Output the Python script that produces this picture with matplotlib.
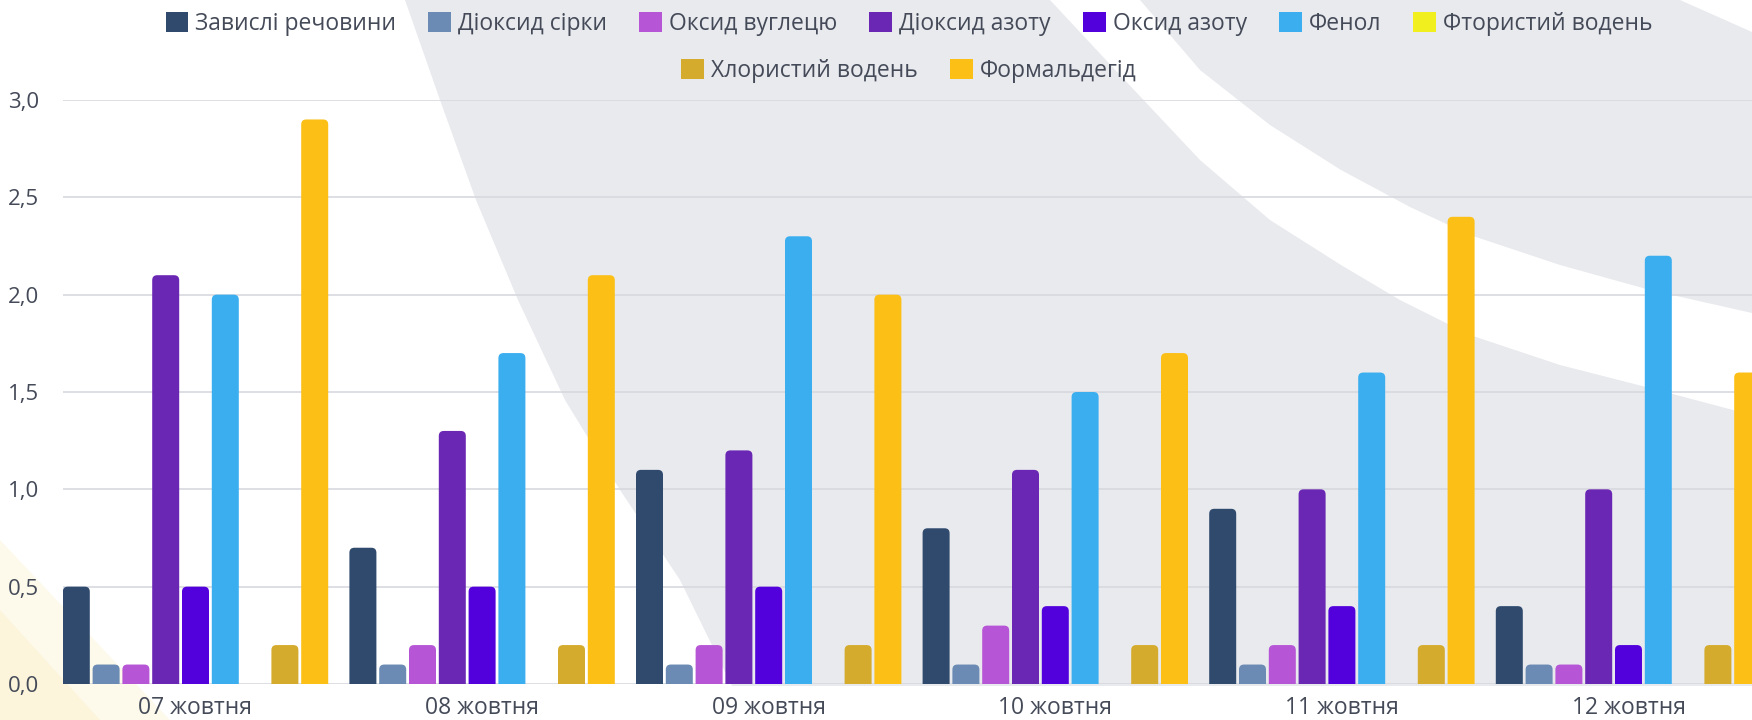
import matplotlib
matplotlib.use("Agg")
import matplotlib.pyplot as plt
import matplotlib.patches as mpatches
from matplotlib.patches import Polygon, FancyBboxPatch
import numpy as np

# ---------------- data ----------------
dates = ["07 жовтня", "08 жовтня", "09 жовтня", "10 жовтня", "11 жовтня", "12 жовтня"]
series_names = ["Завислі речовини", "Діоксид сірки", "Оксид вуглецю", "Діоксид азоту",
                "Оксид азоту", "Фенол", "Фтористий водень", "Хлористий водень", "Формальдегід"]
suspended = [0.5, 0.7, 1.1, 0.8, 0.9, 0.4]
sulfur_dioxide = [0.1, 0.1, 0.1, 0.1, 0.1, 0.1]
carbon_oxide = [0.1, 0.2, 0.2, 0.3, 0.2, 0.1]
nitrogen_dioxide = [2.1, 1.3, 1.2, 1.1, 1.0, 1.0]
nitrogen_oxide = [0.5, 0.5, 0.5, 0.4, 0.4, 0.2]
phenol = [2.0, 1.7, 2.3, 1.5, 1.6, 2.2]
hydrogen_fluoride = [0.0, 0.0, 0.0, 0.0, 0.0, 0.0]
hydrogen_chloride = [0.2, 0.2, 0.2, 0.2, 0.2, 0.2]
formaldehyde = [2.9, 2.1, 2.0, 1.7, 2.4, 1.6]
y_ticks = [0.0, 0.5, 1.0, 1.5, 2.0, 2.5, 3.0]
y_tick_labels = ["0,0", "0,5", "1,0", "1,5", "2,0", "2,5", "3,0"]

series_values = [suspended, sulfur_dioxide, carbon_oxide, nitrogen_dioxide, nitrogen_oxide,
                 phenol, hydrogen_fluoride, hydrogen_chloride, formaldehyde]
colors = ["#2f4a6d", "#6b8bb4", "#b655d5", "#6a27b4", "#5200dc", "#3baef0",
          "#f2ef1e", "#d5ab2d", "#fbbf15"]

FONT = ["Open Sans", "DejaVu Sans"]
plt.rcParams["font.family"] = FONT
TEXT = "#444a58"

W, H = 1752, 720
fig = plt.figure(figsize=(W / 100, H / 100), dpi=100)
fig.patch.set_facecolor("white")

# ---------------- decorative background ----------------
bg = fig.add_axes([0, 0, 1, 1], zorder=-10)
bg.set_xlim(0, W)
bg.set_ylim(H, 0)
bg.axis("off")
grey = "#e9eaee"
grey_poly = [(405, 0), (440, 100), (476, 200), (518, 300), (565, 400), (620, 490),
             (680, 580), (732, 686), (W, 686), (W, 0)]
bg.add_patch(Polygon(grey_poly, closed=True, facecolor=grey, edgecolor="none"))
band_upper = [(1140, 0), (1170, 35), (1200, 70), (1270, 125), (1341, 170), (1410, 207),
              (1470, 235), (1560, 265), (1650, 290), (W, 313)]
band_lower = [(W, 415), (1650, 388), (1560, 365), (1470, 335), (1400, 300), (1341, 265),
              (1270, 220), (1200, 160), (1120, 75), (1050, 0)]
bg.add_patch(Polygon(band_upper + band_lower, closed=True, facecolor="white", edgecolor="none"))
bg.add_patch(Polygon([(1680, 0), (W, 0), (W, 32)], closed=True, facecolor="white", edgecolor="none"))
for pts, a in [([(0, 540), (0, H), (170, H)], 0.35), ([(0, 610), (0, H), (100, H)], 0.45)]:
    bg.add_patch(Polygon(pts, closed=True, facecolor="#fbefc8", edgecolor="none", alpha=a))

# ---------------- main chart ----------------
left_px, right_px, top_px, bottom_px = 63, W, 100, 684
ax = fig.add_axes([left_px / W, (H - bottom_px) / H, (right_px - left_px) / W,
                   (bottom_px - top_px) / H])
ax.set_facecolor("none")

group_px = 286.6
slot = 29.8 / group_px
bar_w = 27.0 / group_px
x0 = -(195.5 - left_px) / group_px
ax.set_xlim(x0, x0 + (right_px - left_px) / group_px)
ax.set_ylim(0, 3.0)

# data units per pixel -> aspect for rounded top corners
y_per_px = 3.0 / (bottom_px - top_px)
x_per_px = 1.0 / group_px
aspect = y_per_px / x_per_px
radius_x = 5 * x_per_px
below = 12 * y_per_px   # extend below the axis so the lower corners are clipped away

x = np.arange(len(dates))
for j, (vals, col) in enumerate(zip(series_values, colors)):
    bars = ax.bar(x + (j - 4) * slot, vals, width=bar_w, color=col, zorder=3, linewidth=0)
    for rect in bars:
        h = rect.get_height()
        if h <= 0:
            continue
        rect.set_visible(False)
        bx, bw = rect.get_x(), rect.get_width()
        p = FancyBboxPatch((bx, -below), bw, h + below,
                           boxstyle=f"round,pad=0,rounding_size={radius_x}",
                           mutation_aspect=aspect, facecolor=col,
                           edgecolor="none", zorder=3)
        ax.add_patch(p)
        p.set_clip_path(ax.patch)

ax.set_yticks(y_ticks)
ax.set_yticklabels(y_tick_labels)
ax.set_xticks(x)
ax.set_xticklabels(dates)
ax.yaxis.grid(True, color="#d8d9df", linewidth=1.2, zorder=0)
ax.set_axisbelow(True)
for s in ax.spines.values():
    s.set_visible(False)
ax.tick_params(axis="y", length=0, pad=17, labelsize=16, labelcolor=TEXT)
ax.tick_params(axis="x", length=0, pad=9, labelsize=16.5, labelcolor=TEXT)

# ---------------- legend (two centred rows) ----------------
handles = [mpatches.Patch(facecolor=c, edgecolor="none") for c in colors]
common = dict(frameon=False, fontsize=16.5, handlelength=1.0, handleheight=1.0,
              handletextpad=0.3, columnspacing=1.4, borderpad=0, borderaxespad=0,
              labelcolor=TEXT)
leg1 = fig.legend(handles[:7], series_names[:7], loc="center", ncol=7,
                  bbox_to_anchor=(909 / W, 1 - 24 / H), **common)
leg2 = fig.legend(handles[7:], series_names[7:], loc="center", ncol=2,
                  bbox_to_anchor=(909 / W, 1 - 71 / H), **common)

fig.savefig("out.png", dpi=100, facecolor=fig.get_facecolor())
